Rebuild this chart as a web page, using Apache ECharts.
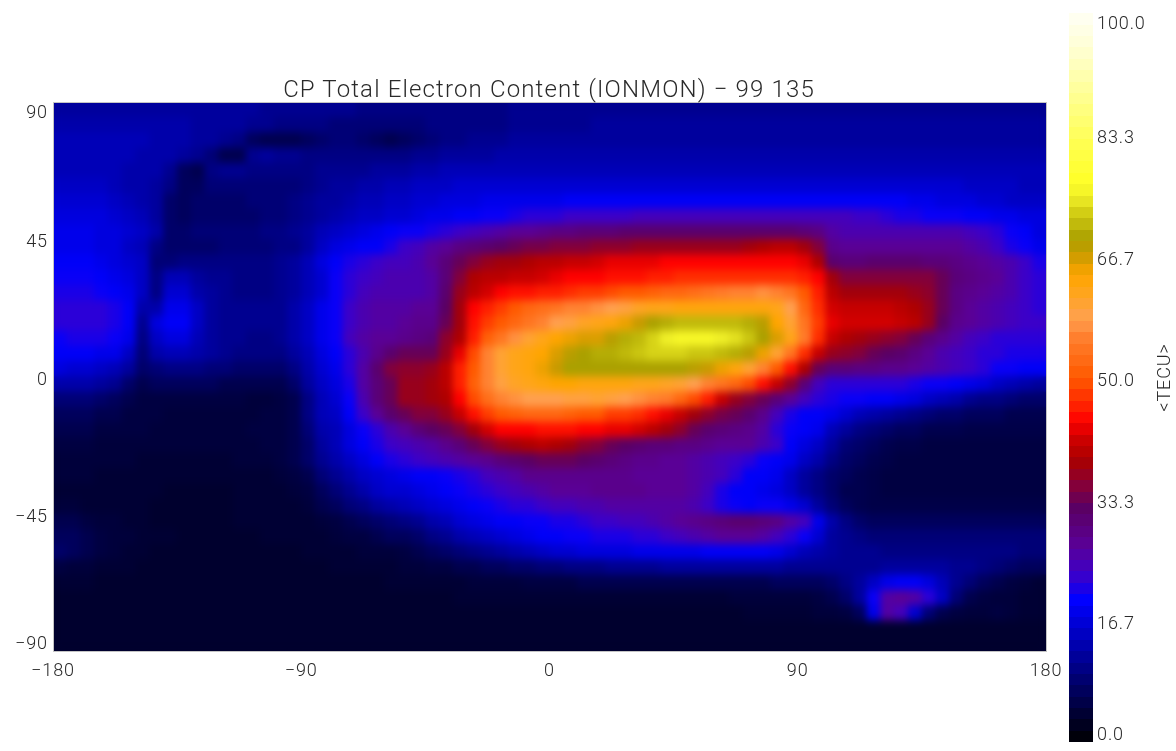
<!DOCTYPE html>
<html><head><meta charset="utf-8">
<style>
html,body{margin:0;padding:0;background:#fff}
.field{position:absolute;left:53px;top:102px;width:1008px;height:540px;transform-origin:0 0;transform:scale(0.98512,1.01667)}
#heat{filter:url(#soft)}
#ov{position:absolute;left:0;top:0;width:1176px;height:751px}
#ov text{letter-spacing:.9px}
#ov text[style*="24px"]{letter-spacing:1.15px}
#ov path{shape-rendering:crispEdges}
</style>
<script src="https://cdn.jsdelivr.net/npm/echarts@6/dist/echarts.min.js"></script>
</head><body>
<svg width="0" height="0" style="position:absolute"><filter id="soft" x="0" y="0" width="100%" height="100%" color-interpolation-filters="sRGB"><feGaussianBlur stdDeviation="4"/></filter></svg>
<div id="base" class="field"></div><div id="heat" class="field"></div><div id="ov"></div>
<script>
const titleText = 'CP Total Electron Content (IONMON) \u2212 99 135';
const xTicks = [-180, -90, 0, 90, 180];
const yTicks = [-90, -45, 0, 45, 90];
const barLabels = ['0.0', '16.7', '33.3', '50.0', '66.7', '83.3', '100.0'];
const barName = '<TECU>';
// TECU, 5 x 5 degree cells, west to east, rows from north to south
const n875 = [12,12,12,12,12,12,12,12,12,12,12,12,12,12,12,11,11,11,11,11,11,11,10,10,10,10,10,10,10,10,10,10,10,11,11,11,11,11,11,11,11,11,11,11,11,11,11,11,11,11,11,11,11,11,11,11,11,11,11,11,11,11,11,11,11,11,11,11,11,11,11,11];
const n825 = [13,13,13,13,13,13,13,13,13,13,12,12,12,12,11,11,10,10,10,10,9,9,9,9,9,9,9,10,10,10,10,10,10,11,11,11,11,11,11,12,12,12,12,12,12,12,12,12,12,12,12,12,12,12,12,12,12,12,12,12,12,12,12,12,12,12,12,12,12,12,12,12];
const n775 = [14,14,14,14,14,14,14,13,13,13,12,12,11,10,7,6,6,6,7,8,9,9,8,7,6,7,8,9,10,10,11,11,11,12,12,12,12,12,12,12,12,12,12,12,12,12,12,12,12,12,12,12,12,12,12,12,12,12,12,12,12,12,12,12,12,12,12,12,12,12,12,12];
const n725 = [14,14,14,14,14,14,13,13,13,12,11,9,6,6,11,12,11,11,10,10,10,10,10,10,10,10,11,11,12,12,12,12,13,13,13,13,13,13,13,13,13,13,13,13,13,13,13,13,13,13,13,13,13,13,13,13,13,13,13,13,13,13,13,13,13,13,13,13,13,13,13,13];
const n675 = [14,14,14,14,14,13,13,13,11,7,6,10,11,11,10,10,10,10,10,11,11,11,11,12,12,12,13,13,14,14,14,14,14,14,14,14,14,14,14,14,14,14,14,14,14,14,14,14,14,14,14,14,14,14,14,14,14,14,14,14,14,14,14,14,14,14,14,14,14,14,14,14];
const n625 = [15,15,15,15,14,13,13,12,10,7,7,9,9,9,9,9,9,9,10,11,12,12,13,13,14,14,15,15,15,16,16,16,16,16,16,16,16,16,16,16,16,16,16,16,16,16,16,16,16,16,16,16,16,16,16,16,16,16,16,16,16,16,16,16,16,16,15,15,15,15,14,14];
const n575 = [16,16,16,16,15,14,13,12,8,7,8,8,8,8,9,9,9,10,11,12,12,13,14,14,15,15,16,16,17,17,17,18,18,18,18,18,18,19,19,19,19,19,19,19,19,19,19,19,19,19,19,19,19,19,19,19,19,19,19,19,19,19,18,18,17,17,17,16,16,15,15,15];
const n525 = [17,17,17,17,16,15,14,12,8,7,8,8,8,8,8,9,9,10,11,12,13,14,15,15,16,16,17,18,18,19,19,20,20,21,22,22,22,23,23,23,23,23,24,24,24,24,24,24,24,24,24,24,24,24,24,24,24,24,23,23,22,21,21,20,20,20,19,19,18,18,17,17];
const n475 = [18,18,18,17,17,16,15,13,8,8,9,9,9,9,9,10,10,11,12,14,15,16,17,18,19,20,20,21,22,23,24,25,26,27,27,28,29,29,30,30,30,31,31,31,31,31,31,31,31,31,31,31,31,31,30,29,26,25,25,25,25,25,25,25,25,25,24,23,22,20,19,17];
const n425 = [18,18,18,17,17,15,14,10,8,8,8,8,9,9,9,9,10,10,12,15,17,18,19,19,21,23,24,26,27,29,30,31,32,33,34,34,35,35,35,36,36,36,37,37,37,37,37,37,37,37,38,39,40,40,38,35,28,27,27,27,27,27,27,27,27,27,26,25,23,21,20,18];
const n375 = [19,19,19,18,17,16,15,9,9,10,10,10,10,10,10,10,11,12,14,17,19,21,22,23,24,24,25,27,30,33,35,37,38,38,39,40,40,41,41,42,43,43,43,43,44,44,44,44,44,44,44,44,44,44,43,39,31,30,30,31,31,31,31,30,30,29,28,27,26,25,23,21];
const n325 = [20,20,20,19,18,17,15,10,14,14,12,11,11,10,10,10,11,12,14,16,20,22,23,24,25,25,25,26,30,35,39,40,40,41,41,42,43,44,44,44,45,45,45,46,46,47,47,47,47,47,47,47,47,47,46,44,38,35,35,35,35,35,35,35,33,30,29,28,27,25,23,22];
const n275 = [21,21,21,20,19,18,15,10,16,16,13,12,11,10,10,10,11,12,14,16,20,22,24,25,25,25,25,26,31,37,40,42,44,45,45,46,46,47,48,48,49,50,50,51,52,52,53,54,55,56,56,57,56,54,50,46,40,38,38,38,38,38,37,36,33,29,28,27,26,25,23,22];
const n225 = [22,22,22,22,21,19,13,13,18,18,15,12,11,11,11,11,11,13,15,18,20,23,25,26,26,26,27,27,32,38,44,46,48,50,52,53,54,56,56,57,58,59,61,62,62,63,63,63,63,63,63,63,62,58,52,47,42,41,41,41,41,40,39,37,33,29,27,26,25,24,23,22];
const n175 = [22,22,22,22,21,19,11,17,19,19,15,12,11,11,11,11,11,13,15,18,20,23,25,26,26,27,28,28,33,38,45,48,50,52,54,56,58,59,61,62,63,65,67,69,70,71,71,71,71,71,70,68,64,60,54,48,43,42,42,42,42,41,40,37,32,28,27,26,25,24,23,23];
const n125 = [20,21,21,21,20,18,10,15,17,17,14,12,11,11,10,10,11,13,15,18,20,24,26,27,27,28,29,30,36,39,46,51,54,57,60,62,64,65,66,66,68,70,71,73,75,76,76,76,75,74,72,69,66,62,55,47,41,39,38,37,36,35,33,30,28,26,24,23,22,22,22,22];
const n075 = [19,19,19,18,18,15,9,13,14,14,13,12,11,10,10,10,10,12,14,17,19,22,25,28,31,33,33,33,37,43,49,56,60,62,63,64,66,68,69,70,70,71,72,73,73,73,72,72,71,70,68,65,60,54,47,41,37,36,35,33,32,31,29,27,25,24,23,22,22,21,21,21];
const n025 = [17,16,16,15,14,12,8,9,10,10,10,9,9,8,8,8,8,10,13,16,18,22,26,31,35,36,36,37,40,46,50,56,60,62,63,65,67,69,69,69,69,69,69,69,69,69,68,67,65,63,60,56,50,45,39,33,30,30,29,29,28,28,27,26,25,24,23,22,20,20,19,19];
const s025 = [13,13,13,12,11,8,6,7,7,7,7,7,6,6,6,6,6,8,12,15,17,21,26,30,33,37,37,38,40,46,51,56,59,61,62,63,64,64,63,63,63,63,62,62,61,60,58,56,54,52,49,45,41,36,30,24,22,22,22,22,22,22,21,20,20,19,18,17,15,14,13,12];
const s075 = [9,9,9,8,7,6,5,5,5,5,5,5,5,5,4.5,4.5,5,6,10,14,16,20,25,30,33,37,37,38,39,44,49,53,56,57,58,58,58,59,59,60,59,58,57,56,55,52,49,46,41,37,35,33,30,27,24,22,21,20,20,19,19,18,17,15,14,13,11,10,10,9,8,8];
const s125 = [7,7,7,6,6,5,5,5,4.5,4.5,4.5,4.5,4.5,4.5,4.5,5,5,6,10,14,15,19,23,27,31,33,35,35,37,41,45,48,50,51,52,52,52,51,50,50,48,48,47,45,43,41,38,36,34,33,31,28,24,21,19,19,18,16,14,13,12,11,10,9,8,8,7,7,7,6,6,6];
const s175 = [6,6,6,5,5,5,5,4.5,4.5,4.5,4.5,4.5,4.5,4.5,5,5,5,6,9,13,14,17,20,22,25,27,30,32,33,35,38,42,44,44,44,45,45,45,44,44,43,43,42,40,38,36,33,31,30,29,28,26,22,20,19,18,14,12,10,9,8,7,7,6,6,6,5.5,5.5,5.5,5.5,5.5,5.5];
const s225 = [5,5,5,4.5,4.5,4.5,4.5,4.5,4.5,4.5,4.5,4.5,4.5,4.5,4.5,5,5,6,8,12,14,17,19,21,23,24,25,26,28,30,33,35,37,38,39,40,39,38,36,35,33,32,31,30,30,29,29,28,27,27,27,25,23,19,17,15,12,9,8,7,6,5.5,5.5,5,5,5,5,5,5,5,5,5];
const s275 = [4.5,4.5,4.5,4.5,4.5,4.5,4,4,4,4,4,4,4,4.5,4.5,4.5,5,6,8,11,13,15,17,19,21,22,23,24,25,26,27,28,30,31,32,33,33,33,32,31,30,29,28,28,27,27,26,25,24,23,22,20,19,18,15,13,10,8,7,6,5.5,5,5,5,5,5,5,5,5,5,5,5];
const s325 = [4.5,4.5,4.5,4,4,4,4,4,4,4,4,4,4,4,4,4,4.5,5,6,9,11,13,15,16,17,18,19,19,20,21,22,24,25,26,28,28,28,28,28,28,28,28,27,27,27,27,26,25,24,22,19,19,18,15,12,10,8,7,6,5.5,5,5,5,5,5,5,5,5,5,5,5,5];
const s375 = [4,4,4,4,4,4,4,4,3.5,3.5,3.5,3.5,3.5,4,4,4,4,4.5,5,7,9,11,13,15,16,16,17,18,19,20,21,22,23,24,25,26,27,27,27,28,28,28,28,27,27,27,26,24,21,19,19,18,17,15,12,10,8,6,6,5.5,5,5,5,5,5,5,5,5,5,5,5,5];
const s425 = [4.5,4.5,4,4,4,4,4,3.5,3.5,3.5,3.5,3.5,3.5,4,4,4,4,4,4.5,6,7,9,10,12,13,14,15,16,17,18,19,20,21,22,22,23,24,24,25,25,26,26,26,26,26,26,25,23,21,20,19,20,20,18,16,12,9,7,6,5.5,5.5,5.5,5.5,5.5,5.5,5.5,5.5,5.5,5.5,5.5,5.5,5.5];
const s475 = [6,6,5,4.5,4.5,4,4,3.5,3.5,3.5,3.5,3.5,3.5,4,4,4,4,4,4,4.5,5,6,7,8,9,10,11,13,14,16,17,18,19,19,20,20,21,21,22,23,23,24,24,25,26,27,28,29,30,31,31,30,29,26,24,18,13,10,8,7,7,7,7,7,7,7,7,7,7,7,7,7];
const s525 = [7,7,6,5,4.5,4.5,4,4,4,3.5,3.5,3.5,3.5,3.5,3.5,4,4,4,4,4,4.5,5,5,6,7,7,8,10,11,13,14,15,16,17,18,19,19,20,20,21,21,21,22,22,23,24,25,26,27,27,27,26,24,22,20,16,12,11,10,9,9,9,9,9,9,9,9,9,9,9,9,9];
const s575 = [8,7,6,5,4.5,4,4,3.5,3.5,3.5,3.5,3.5,3.5,3.5,3.5,3.5,3.5,3.5,4,4,4,4,4.5,4.5,4.5,5,6,7,8,9,10,11,12,13,14,15,16,16,17,17,17,17,18,18,18,18,18,19,19,19,19,19,18,16,14,13,12,11,11,11,10,10,10,10,10,10,10,10,10,10,9,9];
const s625 = [5,4.5,4.5,4,4,4,3.5,3.5,3.5,3.5,3.5,3.5,3.5,3.5,3.5,3.5,3.5,3.5,3.5,3.5,4,4,4,4,4,4.5,4.5,5,5,6,6,7,7,8,8,9,9,10,10,10,11,11,11,11,12,12,12,12,12,12,12,12,12,11,11,11,11,11,11,11,12,12,12,12,12,11,11,10,9,8,7,7];
const s675 = [4,4,4,3.5,3.5,3.5,3.5,3.5,3.5,3.5,3.5,3.5,3.5,3.5,3.5,3.5,3.5,3.5,3.5,3.5,3.5,3.5,3.5,3.5,4,4,4,4,4,4,4.5,4.5,4.5,4.5,5,5,5,5,6,6,6,6,6,6,6,6,6,6,6,6,6,6,7,7,7,7,8,10,12,15,18,19,19,17,14,11,9,7,6,5,4.5,4];
const s725 = [3.5,3.5,3.5,3.5,3.5,3.5,3.5,3.5,3.5,3.5,3.5,3.5,3.5,3.5,3.5,3.5,3.5,3.5,3.5,3.5,3.5,3.5,3.5,3.5,3.5,3.5,3.5,3.5,3.5,4,4,4,4,4,4,4,4,4,4,4,4,4,4,4,4,4,4,4,4,4.5,4.5,4.5,4.5,4.5,4.5,5,6,8,12,20,26,27,26,22,15,9,6,5,4.5,4.5,4,4];
const s775 = [3.5,3.5,3.5,3.5,3.5,3.5,3.5,3.5,3.5,3.5,3.5,3.5,3.5,3.5,3.5,3.5,3.5,3.5,3.5,3.5,3.5,3.5,3.5,3.5,3.5,3.5,3.5,3.5,3.5,3.5,3.5,3.5,3.5,3.5,3.5,3.5,3.5,3.5,3.5,3.5,3.5,3.5,3.5,3.5,3.5,3.5,3.5,3.5,3.5,3.5,4,4,4,4,4,4.5,4.5,5,7,18,26,24,16,9,6,5,4.5,4.5,5,4.5,4,4];
const s825 = [3.5,3.5,3.5,3.5,3.5,3.5,3.5,3.5,3.5,3.5,3.5,3.5,3.5,3.5,3.5,3.5,3.5,3.5,3.5,3.5,3.5,3.5,3.5,3.5,3.5,3.5,3.5,3.5,3.5,3.5,3.5,3.5,3.5,3.5,3.5,3.5,3.5,3.5,3.5,3.5,3.5,3.5,3.5,3.5,3.5,3.5,3.5,3.5,3.5,3.5,3.5,3.5,3.5,3.5,3.5,3.5,3.5,3.5,3.5,3.5,3.5,3.5,3.5,3.5,3.5,3.5,3.5,3.5,3.5,3.5,3.5,3.5];
const s875 = [3.5,3.5,3.5,3.5,3.5,3.5,3.5,3.5,3.5,3.5,3.5,3.5,3.5,3.5,3.5,3.5,3.5,3.5,3.5,3.5,3.5,3.5,3.5,3.5,3.5,3.5,3.5,3.5,3.5,3.5,3.5,3.5,3.5,3.5,3.5,3.5,3.5,3.5,3.5,3.5,3.5,3.5,3.5,3.5,3.5,3.5,3.5,3.5,3.5,3.5,3.5,3.5,3.5,3.5,3.5,3.5,3.5,3.5,3.5,3.5,3.5,3.5,3.5,3.5,3.5,3.5,3.5,3.5,3.5,3.5,3.5,3.5];
const tecRows = [n875,n825,n775,n725,n675,n625,n575,n525,n475,n425,n375,n325,n275,n225,n175,n125,n075,n025,s025,s075,s125,s175,s225,s275,s325,s375,s425,s475,s525,s575,s625,s675,s725,s775,s825,s875];

// colour table [level, r, g, b]
const rampStops = [[0,0,0,0],[19.5,0,0,255],[23,60,0,200],[27,90,0,150],[32,90,0,100],[35,130,0,60],[38.7,170,0,0],[42,210,0,0],[44,255,0,0],[50,255,90,0],[56,255,130,50],[58,255,160,80],[61.6,255,165,30],[64,255,165,0],[67,200,155,0],[69,170,160,0],[72.6,210,205,20],[75,240,240,40],[77,255,255,40],[82,255,255,80],[88,255,255,140],[95,255,255,210],[100,255,255,245]];
function ramp(n){const out=[];for(let k=0;k<=n;k++){const v=100*k/n;let a=rampStops[0],b=rampStops[1];
  for(let s=0;s<rampStops.length-1;s++){if(v>=rampStops[s][0]&&v<=rampStops[s+1][0]){a=rampStops[s];b=rampStops[s+1];break;}}
  const t=(v-a[0])/(b[0]-a[0]);out.push('rgb('+[1,2,3].map(c=>Math.round(a[c]+(b[c]-a[c])*t)).join(',')+')');}return out;}
const palette=ramp(200);
const vm=(idx)=>({type:'continuous',min:0,max:100,seriesIndex:idx,show:false,inRange:{color:palette}});

const nx=tecRows[0].length, ny=tecRows.length;
const xCats=Array.from({length:nx},(_,i)=>String(i)), yCats=Array.from({length:ny},(_,j)=>String(j));
const cells=[];tecRows.forEach((row,r)=>row.forEach((v,i)=>cells.push([i,ny-1-r,v])));

// field: a softened layer over a sharp one, so the plot edge stays solid
const fieldOption={animation:false,
  grid:{left:0,right:0,top:0,bottom:0},
  visualMap:[vm(0)],
  xAxis:{type:'category',data:xCats,show:false},
  yAxis:{type:'category',data:yCats,show:false},
  series:[{type:'heatmap',data:cells,progressive:0,emphasis:{disabled:true}}]
};
echarts.init(document.getElementById('base')).setOption(fieldOption);
echarts.init(document.getElementById('heat')).setOption(fieldOption);

// axes, title and colour bar
const barSteps=64;
const barCats=Array.from({length:barSteps},(_,k)=>String(k));
const barCells=barCats.map((_,k)=>[0,k,(k+0.5)*100/barSteps]);
const font='Roboto', ink='#2a2a2a';
const lab=(extra)=>Object.assign({fontFamily:font,fontWeight:300,fontSize:18,color:ink},extra);
const signed=v=>String(v).replace('-','\u2212');
const richLab=(pad)=>({mid:lab({padding:[pad,0,0,0]}),end:lab({})});
const ov=echarts.init(document.getElementById('ov'),null,{renderer:'svg'});
ov.setOption({
  animation:false,
  backgroundColor:'transparent',
  title:{text:titleText,left:544,top:72,textAlign:'center',textStyle:{fontFamily:font,fontWeight:300,fontSize:24,color:ink}},
  grid:[{left:53,top:102,width:993,height:549,show:true,borderColor:'#c4c4c4',borderWidth:1,backgroundColor:'transparent'},
        {left:1069,top:13,width:24,height:729}],
  visualMap:[vm(0)],
  xAxis:[
    {gridIndex:0,type:'value',min:-180,max:180,interval:90,position:'bottom',splitLine:{show:false},axisLine:{show:false},axisTick:{show:false},
      axisLabel:lab({margin:9,formatter:signed,customValues:xTicks})},
    {gridIndex:1,type:'category',data:['bar'],show:false}],
  yAxis:[
    {gridIndex:0,type:'value',min:-90,max:90,interval:45,position:'left',splitLine:{show:false},axisLine:{show:false},axisTick:{show:false},
      axisLabel:lab({margin:5,rich:richLab(3),customValues:yTicks,verticalAlignMinLabel:'bottom',verticalAlignMaxLabel:'top',
        formatter:v=>(Math.abs(v)===90?'{end|':'{mid|')+signed(v)+'}'})},
    {gridIndex:1,type:'category',data:barCats,show:false},
    {gridIndex:1,type:'value',min:0,max:6,interval:1,position:'right',splitLine:{show:false},axisLine:{show:false},axisTick:{show:false},
      name:barName,nameLocation:'middle',nameGap:61,nameRotate:90,nameTextStyle:lab({}),
      axisLabel:lab({margin:4,rich:richLab(4),verticalAlignMinLabel:'bottom',verticalAlignMaxLabel:'top',
        formatter:v=>((v===0||v===6)?'{end|':'{mid|')+barLabels[v]+'}'})}],
  series:[{type:'heatmap',xAxisIndex:1,yAxisIndex:1,data:barCells,progressive:0,emphasis:{disabled:true}}]
});
</script></body></html>
